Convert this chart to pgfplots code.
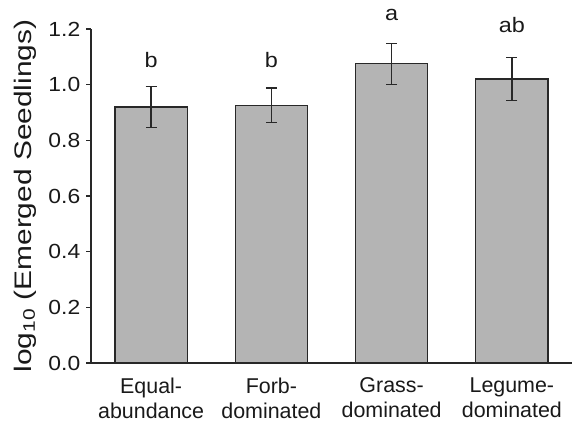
\documentclass[border=0pt]{standalone}
\usepackage{pgfplots}
\pgfplotsset{compat=1.18}
\usepackage{fontspec}
\setmainfont{Liberation Sans}
\newfontfamily\wfont{Liberation Sans}[FakeStretch=1.12]
\newfontfamily\lblfont{Liberation Sans}[FakeStretch=1.25]
\definecolor{barfill}{RGB}{180,180,180}
\definecolor{edge}{RGB}{40,40,40}
\definecolor{txt}{RGB}{25,25,25}
\begin{document}
\begin{tikzpicture}
\begin{axis}[
  scale only axis,
  width=481bp, height=334bp,
  xmin=-0.5, xmax=3.5,
  ymin=0, ymax=1.2,
  axis x line*=bottom, axis y line*=left,
  axis line style={edge, line width=1.3bp},
  xtick={0,1,2,3},
  xticklabels={{Equal-\\abundance},{Forb-\\dominated},{Grass-\\dominated},{Legume-\\dominated}},
  xticklabel style={align=center, font={\fontsize{21.5}{25}\selectfont}, text=txt, inner sep=0pt, text depth=0pt, yshift=-10bp},
  x tick style={draw=none},
  ytick={0,0.2,0.4,0.6,0.8,1.0,1.2},
  yticklabel style={font={\wfont\fontsize{20.5}{22}\selectfont}, text=txt, inner sep=0pt, xshift=-6bp,
    /pgf/number format/fixed, /pgf/number format/fixed zerofill, /pgf/number format/precision=1},
  /pgf/number format/assume math mode=true,
  y tick style={edge, line width=1.3bp},
  tick align=outside,
  major tick length=4.5bp,
  ylabel={log\textsubscript{10} (Emerged Seedlings)},
  ylabel style={font={\lblfont\fontsize{24}{26}\selectfont}, text=txt, at={(axis description cs:-0.1372,0.5)}, anchor=center},
  clip=false,
]
\addplot[ybar, bar width=0.6, fill=barfill, draw=edge, line width=1.3bp,
  error bars/.cd, y dir=both, y explicit,
  error bar style={edge, line width=1.3bp},
  error mark options={rotate=90, mark size=5.5bp, edge, line width=1.3bp}]
coordinates {
  (0,0.920) +- (0,0.074)
  (1,0.926) +- (0,0.062)
  (2,1.075) +- (0,0.074)
  (3,1.020) +- (0,0.077)
};
\node[anchor=base, font={\wfont\fontsize{21}{22}\selectfont}, text=txt] at (axis cs:0,1.060) {b};
\node[anchor=base, font={\wfont\fontsize{21}{22}\selectfont}, text=txt] at (axis cs:1,1.060) {b};
\node[anchor=base, font={\wfont\fontsize{21}{22}\selectfont}, text=txt] at (axis cs:2,1.229) {a};
\node[anchor=base, font={\wfont\fontsize{21}{22}\selectfont}, text=txt] at (axis cs:3,1.186) {ab};
\coordinate (bl) at ([xshift=-91bp,yshift=-61bp]rel axis cs:0,0);
\coordinate (tr) at ([xshift=11bp,yshift=29bp]rel axis cs:1,1);
\end{axis}
\pgfresetboundingbox
\useasboundingbox (bl) rectangle (tr);
\end{tikzpicture}
\end{document}
